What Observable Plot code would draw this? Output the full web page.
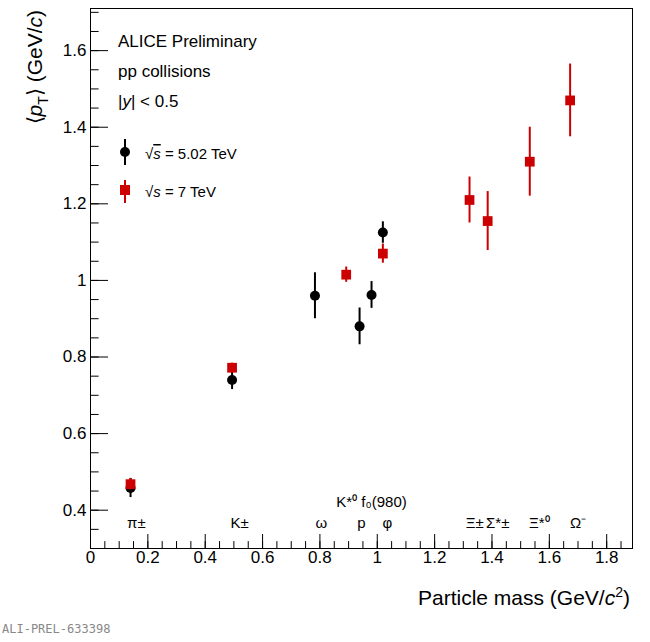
<!DOCTYPE html>
<html><head>
<script src="https://cdn.jsdelivr.net/npm/d3@7"></script>
<script src="https://cdn.jsdelivr.net/npm/@observablehq/plot@0.6"></script>
<style>body{margin:0;background:#fff;font-family:"Liberation Sans",Arial,sans-serif}
#cap{position:absolute;left:2px;top:622px;font:12px "DejaVu Sans Mono",monospace;color:#888}</style>
</head><body><div id="chart"></div><div id="cap">ALI-PREL-633398</div>
<script>
const mass502 = [0.1396, 0.4937, 0.7827, 0.9383, 0.98, 1.0195];
const pt502 = [0.458, 0.740, 0.960, 0.880, 0.962, 1.125];
const err502 = [0.025, 0.025, 0.06, 0.048, 0.035, 0.028];
const mass7 = [0.1396, 0.4937, 0.8917, 1.0195, 1.3217, 1.3850, 1.5318, 1.6725];
const pt7 = [0.468, 0.772, 1.015, 1.070, 1.210, 1.155, 1.310, 1.470];
const err7 = [0.015, 0.012, 0.02, 0.025, 0.06, 0.077, 0.09, 0.095];
const pLabels = ["π±","K±","ω","p","φ","Ξ±","Σ*±","Ξ*⁰","Ω⁻"];
const pLabelX = [0.16, 0.52, 0.805, 0.945, 1.035, 1.34, 1.42, 1.565, 1.7];
const upLabels = ["K*⁰ f₀(980)"];
const upLabelX = [0.98];
const majorTicks = d3.range(0, 1.81, 0.2);
const yMajor = [0.4,0.6,0.8,1.0,1.2,1.4,1.6];

const d502 = mass502.map((m,i)=>({m,v:pt502[i],e:err502[i]}));
const d7 = mass7.map((m,i)=>({m,v:pt7[i],e:err7[i]}));
const minorX = d3.range(0, 1.89, 0.05);
const minorY = d3.range(0.3, 1.71, 0.05);
const fmt = d => d===0?"0":(Math.abs(d-1)<1e-9?"1":d.toFixed(1));

const plot = Plot.plot({
  width: 650, height: 615, marginLeft: 90, marginRight: 18, marginTop: 8, marginBottom: 67,
  style: {fontFamily: "Liberation Sans, Arial, sans-serif", fontSize: "17px", color: "#000"},
  x: {domain: [0, 1.89]}, y: {domain: [0.3, 1.71]},
  marks: [
    Plot.frame({stroke: "#000"}),
    Plot.axisX({ticks: majorTicks, tickSize: -14, tickFormat: d=>fmt(Math.round(d*10)/10), tickPadding: 16, fontSize: 17, label: null}),
    Plot.ruleX(minorX, {x: d=>d, y1: 0.3, y2: 0.3+0.018, stroke: "#000"}),
    Plot.ruleY(minorY, {y: d=>d, x1: 0, x2: 0.03, stroke: "#000"}),
    Plot.axisY({ticks: yMajor, tickSize: -18, tickFormat: d=>fmt(d), tickPadding: 22, fontSize: 17, label: null}),
    Plot.ruleX(d502, {x: "m", y1: d=>d.v-d.e, y2: d=>d.v+d.e, stroke: "#000", strokeWidth: 2}),
    Plot.dot(d502, {x: "m", y: "v", r: 5, fill: "#000"}),
    Plot.ruleX(d7, {x: "m", y1: d=>d.v-d.e, y2: d=>d.v+d.e, stroke: "#cc0000", strokeWidth: 2}),
    Plot.dot(d7, {x: "m", y: "v", r: 5.5, symbol: "square", fill: "#cc0000"}),
    Plot.text(pLabels, {x: (d,i)=>pLabelX[i], y: 0.367, text: d=>d, fontSize: 15}),
    Plot.text(upLabels, {x: (d,i)=>upLabelX[i], y: 0.42, text: d=>d, fontSize: 15})
  ]
});
document.getElementById("chart").appendChild(plot);
const svg = d3.select(plot);
const g = svg.append("g").attr("font-family","Liberation Sans, Arial, sans-serif").attr("font-size",17).attr("text-anchor","start").attr("fill","#000");
g.append("text").attr("x",118).attr("y",47).text("ALICE Preliminary");
g.append("text").attr("x",118).attr("y",77).text("pp collisions");
g.append("text").attr("x",118).attr("y",107).html('|<tspan font-style="italic">y</tspan>| &lt; 0.5');
g.append("line").attr("x1",125).attr("x2",125).attr("y1",139).attr("y2",165).attr("stroke","#000").attr("stroke-width",2);
g.append("circle").attr("cx",125).attr("cy",152).attr("r",5).attr("fill","#000");
g.append("text").attr("x",145).attr("y",159).attr("font-size",15).html('√<tspan font-style="italic" text-decoration="overline">s</tspan> = 5.02 TeV');
g.append("line").attr("x1",125).attr("x2",125).attr("y1",180).attr("y2",203).attr("stroke","#cc0000").attr("stroke-width",2);
g.append("rect").attr("x",120).attr("y",185).attr("width",10).attr("height",10).attr("fill","#cc0000");
g.append("text").attr("x",145).attr("y",197).attr("font-size",15).html('√<tspan font-style="italic">s</tspan> = 7 TeV');
g.append("text").attr("x",630).attr("y",605).attr("text-anchor","end").attr("font-size",21)
 .html('Particle mass (GeV/<tspan font-style="italic">c</tspan><tspan dy="-8" font-size="14">2</tspan><tspan dy="8">)</tspan>');
g.append("text").attr("transform","translate(42,10) rotate(-90)").attr("text-anchor","end").attr("font-size",21)
 .html('⟨<tspan font-style="italic">p</tspan><tspan dy="6" font-size="14">T</tspan><tspan dy="-6">⟩ (GeV/</tspan><tspan font-style="italic">c</tspan>)');
</script></body></html>
